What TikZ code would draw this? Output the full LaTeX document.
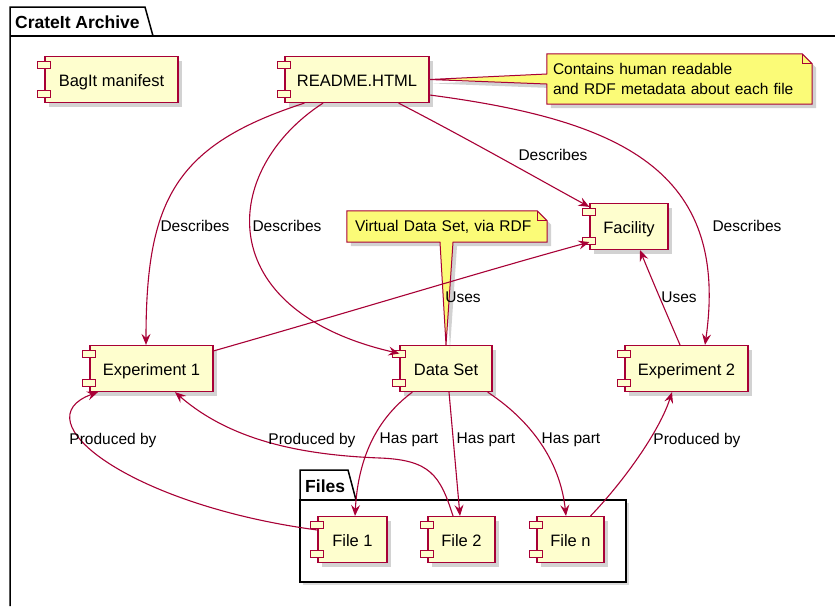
\documentclass[tikz,border=0pt]{standalone}
\usepackage{fontspec}
\setmainfont{Liberation Sans}
\usetikzlibrary{shadows,arrows.meta,calc}
\definecolor{compfill}{HTML}{FEFECE}
\definecolor{umlred}{HTML}{A80036}
\definecolor{notefill}{HTML}{FBFB77}
\newcommand\comptabs[1]{%
  \draw[comprect] ($(#1.north west)+(-7,6)$) rectangle ++(13,7);
  \draw[comprect] ($(#1.south west)+(-7,-13)$) rectangle ++(13,7);}
\begin{document}
\begin{tikzpicture}[x=1pt,y=-1pt,
  comp/.style={draw=umlred, line width=1.2pt, fill=compfill, minimum height=46pt,
    inner sep=0pt, text height=14pt, text depth=0pt, font=\fontsize{16.5}{18}\selectfont,
    drop shadow={shadow xshift=4pt,shadow yshift=-4pt,opacity=0.35,fill=black!50}},
  comprect/.style={draw=umlred, line width=1pt, fill=compfill},
  notebox/.style={inner sep=0pt, align=left, font=\fontsize{15.5}{19.5}\selectfont},
  noteline/.style={draw=umlred, line width=1pt, fill=notefill},
  noteshadow/.style={drop shadow={shadow xshift=4pt,shadow yshift=-4pt,opacity=0.35,fill=black!50}},
  edge/.style={draw=umlred, line width=1.1pt, -{Stealth[length=11pt,width=9pt,inset=4pt]}},
  lab/.style={font=\fontsize{15.5}{18}\selectfont, inner sep=1pt},
  pkg/.style={draw=black, line width=1.5pt},
  pkgtitle/.style={font=\bfseries\fontsize{17.5}{20}\selectfont, inner sep=0pt, anchor=west}]
\useasboundingbox (0,0) rectangle (835,606);
\fill[white] (0,0) rectangle (835,606);

% outer package
\draw[pkg] (10,606) -- (10,7) -- (145,7) -- (153,36);
\draw[pkg] (10,36) -- (835,36);
\node[pkgtitle] (ptitle) at (15,22) {CrateIt Archive};

% files package
\fill[black!40,opacity=0.35] (303,503) rectangle (629,585);
\draw[pkg,fill=white] (300,500) -- (300,470) -- (348,470) -- (356,500) -- cycle;
\draw[pkg,fill=white] (300,500) rectangle (626,582);
\node[pkgtitle] (ftitle) at (305,486) {Files};

% components
\node[comp, minimum width=133pt] (bag) at (111.5,79.5) {BagIt manifest};
\node[comp, minimum width=144pt] (readme) at (357,79.5) {README.HTML};
\node[comp, minimum width=78pt] (facility) at (629,226.5) {Facility};
\node[comp, minimum width=123pt] (exp1) at (151.5,368.5) {Experiment 1};
\node[comp, minimum width=92pt] (dataset) at (446,368.5) {Data Set};
\node[comp, minimum width=123pt] (exp2) at (686.5,368.5) {Experiment 2};
\node[comp, minimum width=69pt] (file1) at (352.5,539.5) {File 1};
\node[comp, minimum width=67pt] (file2) at (461.5,539.5) {File 2};
\node[comp, minimum width=67pt] (filen) at (570.5,539.5) {File n};
\foreach \n in {bag,readme,facility,exp1,dataset,exp2,file1,file2,filen} {\comptabs{\n}}

% note 1
\node[notebox, minimum width=265pt, minimum height=50pt, text width=253pt] (note1) at (679.5,79) {};
\path[noteline, noteshadow] (note1.north west) -- ($(note1.north east)+(-10,0)$) -- ($(note1.north east)+(0,10)$)
  -- (note1.south east) -- (note1.south west) -- ($(note1.west)+(0,5)$) -- (readme.east) -- ($(note1.west)+(0,-5)$) -- cycle;
\draw[draw=umlred, line width=1pt] ($(note1.north east)+(-10,0)$) -- ($(note1.north east)+(-10,10)$) -- ($(note1.north east)+(0,10)$);
\node[notebox, text width=253pt] (note1text) at (note1.center) {Contains human readable\\and RDF metadata about each file};

% note 2
\node[notebox, minimum width=200pt, minimum height=31pt, text width=184pt] (note2) at (447,226.5) {};
\path[noteline, noteshadow] (note2.north west) -- ($(note2.north east)+(-10,0)$) -- ($(note2.north east)+(0,10)$)
  -- (note2.south east) -- ($(note2.south)+(6,0)$) -- (dataset.north) -- ($(note2.south)+(-7,0)$) -- (note2.south west) -- cycle;
\draw[draw=umlred, line width=1pt] ($(note2.north east)+(-10,0)$) -- ($(note2.north east)+(-10,10)$) -- ($(note2.north east)+(0,10)$);
\node[notebox, text width=184pt] (note2text) at (note2.center) {Virtual Data Set, via RDF};

% edges
\draw[edge] ([xshift=20pt]readme.south west) .. controls (175,145) and (146,200) .. ([xshift=-5.5pt]exp1.north);
\draw[edge] ([xshift=-34pt]readme.south) .. controls (220,170) and (210,310) .. ([yshift=15pt]dataset.west);
\draw[edge] ([xshift=-31pt]readme.south east) .. controls (470,140) and (540,180) .. ([yshift=-4pt]facility.north west);
\draw[edge] ([yshift=-15.5pt]readme.east) .. controls (620,120) and (730,170) .. ([xshift=18.5pt]exp2.north);
\draw[edge] ([yshift=-6pt]exp1.north east) .. controls (350,312) and (480,272) .. ([yshift=8pt]facility.south west);
\draw[edge] ([xshift=-6.5pt]exp2.north) .. controls (665,310) and (650,275) .. ([xshift=11pt]facility.south);
\draw[edge] ([xshift=13pt]dataset.south west) .. controls (375,420) and (358,460) .. ([xshift=2.5pt]file1.north);
\draw[edge] ([xshift=3pt]dataset.south) -- ([xshift=-1.5pt]file2.north);
\draw[edge] ([xshift=-5pt]dataset.south east) .. controls (530,420) and (560,460) .. ([xshift=-4.5pt]filen.north);
\draw[edge] ([yshift=9.5pt]file1.west) .. controls (130,505) and (20,420) .. ([xshift=-53.5pt]exp1.south);
\draw[edge] ([xshift=-8.5pt]file2.north) .. controls (440,475) and (430,460) .. (380,458) .. controls (300,455) and (230,440) .. ([xshift=23.5pt]exp1.south);
\draw[edge] ([xshift=-14pt]filen.north east) .. controls (625,480) and (660,430) .. ([xshift=-14.5pt]exp2.south);

% labels
\node[lab] (l1) at (195,226) {Describes};
\node[lab] (l2) at (287,226) {Describes};
\node[lab] (l3) at (553,155) {Describes};
\node[lab] (l4) at (747,226) {Describes};
\node[lab] (l5) at (463,297) {Uses};
\node[lab] (l6) at (679,297) {Uses};
\node[lab] (l7) at (409,440) {Has part};
\node[lab] (l8) at (486,440) {Has part};
\node[lab] (l9) at (571,440) {Has part};
\node[lab] (l10) at (113,440) {Produced by};
\node[lab] (l11) at (312,440) {Produced by};
\node[lab] (l12) at (697,440) {Produced by};
\end{tikzpicture}
\end{document}
